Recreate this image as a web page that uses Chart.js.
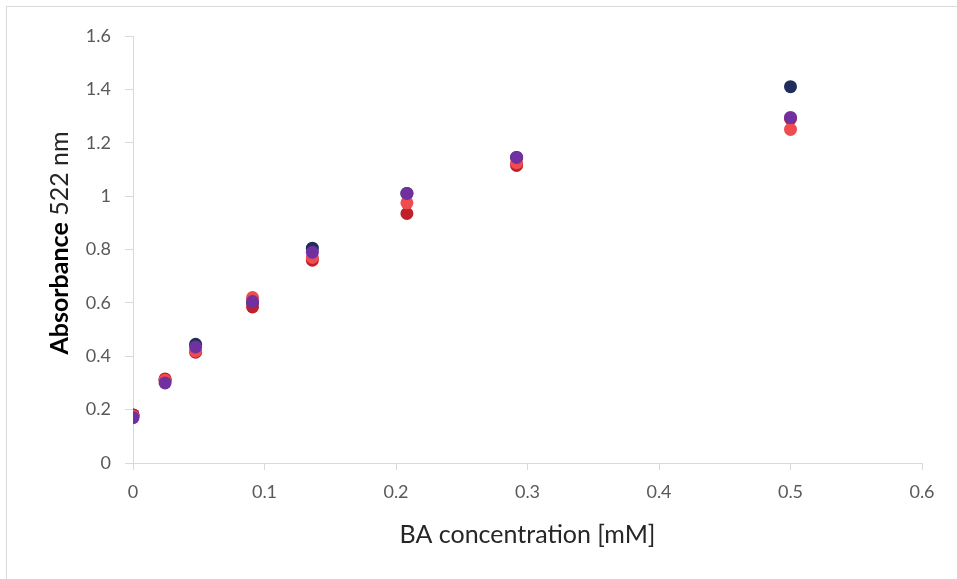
<!DOCTYPE html>
<html>
<head>
<meta charset="utf-8">
<script src="https://cdn.jsdelivr.net/npm/chart.js@4/dist/chart.umd.min.js"></script>
<style>
  html, body { margin: 0; padding: 0; background: #fff; overflow: hidden; }
  #wrap { position: relative; width: 957px; height: 579px; }
  #frame { position: absolute; left: 6px; top: 6px; width: 1000px; height: 700px; border: 1px solid #d9d9d9; box-sizing: border-box; }
  canvas { position: absolute; left: 0; top: 0; }
</style>
</head>
<body>
<div id="wrap">
  <div id="frame"></div>
  <canvas id="absChart" width="957" height="579"></canvas>
</div>
<script>
// BA concentration [mM]
var concentrations = [0, 0.0244, 0.0476, 0.0909, 0.1364, 0.2083, 0.2917, 0.5];

// absorbance at 522 nm, one array per replicate
var seriesNavy   = [0.180, 0.310, 0.445, 0.600, 0.805, 1.010, 1.145, 1.410];
var seriesDarkRed = [0.180, 0.315, 0.415, 0.585, 0.760, 0.935, 1.115, 1.290];
var seriesLightRed = [0.175, 0.310, 0.420, 0.620, 0.770, 0.975, 1.125, 1.250];
var seriesPurple = [0.170, 0.300, 0.435, 0.605, 0.790, 1.010, 1.145, 1.295];

var xTicks = [0, 0.1, 0.2, 0.3, 0.4, 0.5, 0.6];
var yTicks = [0, 0.2, 0.4, 0.6, 0.8, 1, 1.2, 1.4, 1.6];

var FONT = 'Lato';

function points(ys) {
    return concentrations.map(function(x, i) { return { x: x, y: ys[i] }; });
}

// order: higher numbers are painted first (underneath)
function makeSet(label, ys, color, order) {
    return {
        label: label,
        data: points(ys),
        backgroundColor: color,
        borderColor: color,
        pointRadius: 6.5,
        pointHoverRadius: 6.5,
        borderWidth: 0,
        order: order
    };
}

// y title: "Absorbance" bold + " 522 nm" regular, rotated
var yTitlePlugin = {
    id: 'yTitle',
    afterDraw: function(chart) {
        var ctx = chart.ctx;
        var bold = 'bold 25px ' + FONT;
        var reg = '25px ' + FONT;
        ctx.save();
        ctx.font = bold;
        var w1 = ctx.measureText('Absorbance').width;
        ctx.font = reg;
        var w2 = ctx.measureText(' 522 nm').width;
        var total = w1 + w2;
        ctx.translate(60, 243);
        ctx.rotate(-Math.PI / 2);
        ctx.textBaseline = 'middle';
        ctx.textAlign = 'left';
        ctx.fillStyle = '#000';
        ctx.font = bold;
        ctx.fillText('Absorbance', -total / 2, 0);
        ctx.font = reg;
        ctx.fillStyle = '#262626';
        ctx.fillText(' 522 nm', -total / 2 + w1, 0);
        ctx.restore();
    }
};

var ctx = document.getElementById('absChart').getContext('2d');
new Chart(ctx, {
    type: 'scatter',
    data: {
        datasets: [
            makeSet('Series 1', seriesNavy, '#1f2d5c', 3),
            makeSet('Series 2', seriesDarkRed, '#c0202a', 2),
            makeSet('Series 3', seriesLightRed, '#f04b4e', 1),
            makeSet('Series 4', seriesPurple, '#7030a0', 0)
        ]
    },
    options: {
        responsive: false,
        animation: false,
        layout: { padding: { left: 0, top: 36, right: 35, bottom: 0 } },
        plugins: {
            legend: { display: false },
            tooltip: { enabled: false }
        },
        scales: {
            x: {
                type: 'linear',
                min: 0,
                max: 0.6,
                afterFit: function(scale) { scale.height = 116; },
                afterBuildTicks: function(scale) { scale.ticks = xTicks.map(function(v) { return { value: v }; }); },
                border: { color: '#d9d9d9', width: 1 },
                grid: { drawOnChartArea: false, color: '#d9d9d9', tickLength: 7 },
                ticks: {
                    color: '#595959',
                    font: { family: FONT, size: 18 },
                    padding: 11,
                    maxRotation: 0,
                    callback: function(v) { return String(Math.round(v * 10) / 10); }
                },
                title: {
                    display: true,
                    text: 'BA concentration [mM]',
                    color: '#262626',
                    font: { family: FONT, size: 25 },
                    padding: { top: 0, bottom: 29 }
                }
            },
            y: {
                type: 'linear',
                min: 0,
                max: 1.6,
                afterFit: function(scale) { scale.width = 133; },
                afterBuildTicks: function(scale) { scale.ticks = yTicks.map(function(v) { return { value: v }; }); },
                border: { color: '#d9d9d9', width: 1 },
                grid: { drawOnChartArea: false, color: '#d9d9d9', tickLength: 8 },
                ticks: {
                    color: '#595959',
                    font: { family: FONT, size: 18 },
                    padding: 14,
                    callback: function(v) { return String(Math.round(v * 10) / 10); }
                }
            }
        }
    },
    plugins: [yTitlePlugin]
});
</script>
</body>
</html>
